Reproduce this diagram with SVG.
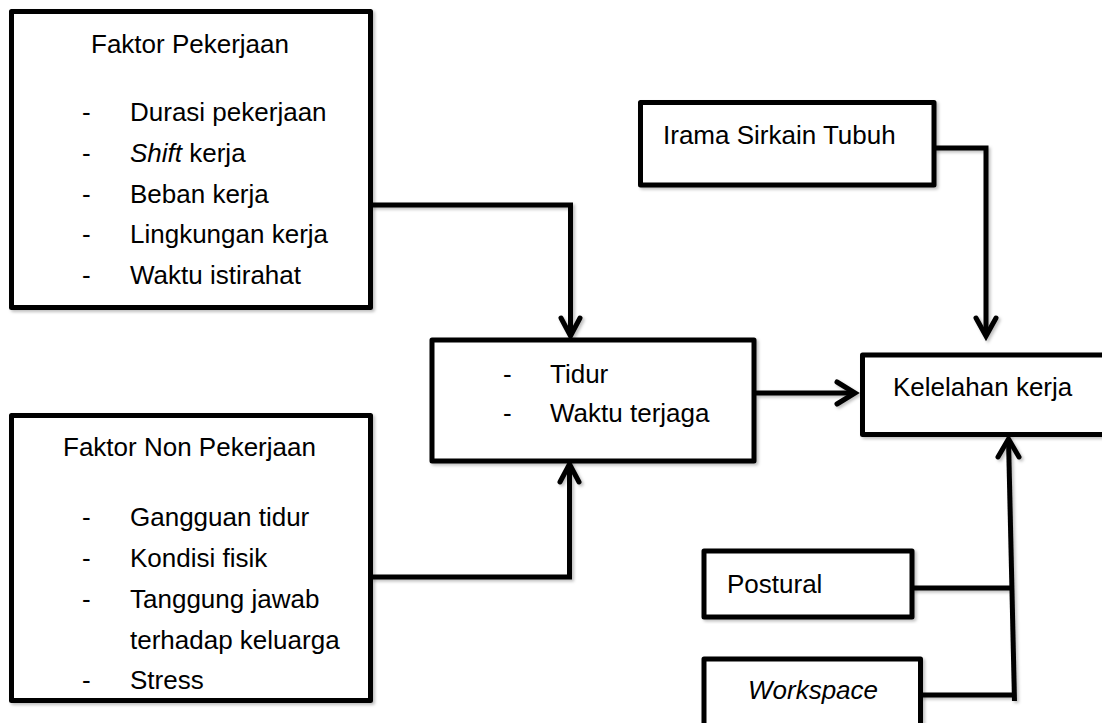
<svg xmlns="http://www.w3.org/2000/svg" width="1102" height="723" viewBox="0 0 1102 723">
<style>
.box{fill:#fff;stroke:#000;stroke-width:5;stroke-linejoin:round}
.ln{fill:none;stroke:#000;stroke-width:5;stroke-linejoin:miter}
.ah{fill:none;stroke:#000;stroke-width:5;stroke-linecap:round;stroke-linejoin:miter}
text{font-family:"Liberation Sans",Arial,sans-serif;font-size:26px;fill:#000}
.it{font-style:italic}
</style>
<defs>
<filter id="sh" x="-5%" y="-5%" width="115%" height="115%">
<feDropShadow dx="2" dy="2" stdDeviation="1.5" flood-color="#000" flood-opacity="0.25"/>
</filter>
</defs>
<rect width="1102" height="723" fill="#fff"/>
<g id="connectors" filter="url(#sh)">
<polyline class="ln" points="371,205 570.5,205 570.5,336"/>
<polyline class="ah" points="561,318 570.5,336 580,318"/>
<polyline class="ln" points="371,577 569.5,577 569.5,464"/>
<polyline class="ah" points="560,482 569.5,464 579,482"/>
<line class="ln" x1="756" y1="393" x2="855" y2="393"/>
<polyline class="ah" points="837,382 855,393 837,404"/>
<polyline class="ln" points="934,148 986,148 986,336"/>
<polyline class="ah" points="976,318 986,336 996,318"/>
<line class="ln" x1="1014.5" y1="701" x2="1008.5" y2="439"/>
<polyline class="ah" points="998,457 1008.5,439 1019,457"/>
<line class="ln" x1="912" y1="588" x2="1011" y2="588"/>
<line class="ln" x1="920" y1="695" x2="1014" y2="695"/>
</g>
<g id="faktor-pekerjaan">
<rect class="box" x="11.5" y="11.5" width="359" height="296" filter="url(#sh)"/>
<text x="91" y="53">Faktor Pekerjaan</text>
<text x="82" y="121">-</text><text x="130" y="121">Durasi pekerjaan</text>
<text x="82" y="162">-</text><text x="130" y="162"><tspan class="it">Shift</tspan> kerja</text>
<text x="82" y="203">-</text><text x="130" y="203">Beban kerja</text>
<text x="82" y="243">-</text><text x="130" y="243">Lingkungan kerja</text>
<text x="82" y="284">-</text><text x="130" y="284">Waktu istirahat</text>
</g>
<g id="faktor-non-pekerjaan">
<rect class="box" x="11.5" y="415.5" width="359" height="285" filter="url(#sh)"/>
<text x="63" y="456">Faktor Non Pekerjaan</text>
<text x="82" y="526">-</text><text x="130" y="526">Gangguan tidur</text>
<text x="82" y="567">-</text><text x="130" y="567">Kondisi fisik</text>
<text x="82" y="608">-</text><text x="130" y="608">Tanggung jawab</text>
<text x="130" y="649">terhadap keluarga</text>
<text x="82" y="689">-</text><text x="130" y="689">Stress</text>
</g>
<g id="tidur">
<rect class="box" x="432" y="340" width="322" height="121" filter="url(#sh)"/>
<text x="503" y="383">-</text><text x="550" y="383">Tidur</text>
<text x="503" y="422">-</text><text x="550" y="422">Waktu terjaga</text>
</g>
<g id="irama">
<rect class="box" x="640.5" y="102.5" width="293.5" height="82.5" filter="url(#sh)"/>
<text x="663" y="144">Irama Sirkain Tubuh</text>
</g>
<g id="kelelahan">
<rect class="box" x="862.5" y="355" width="260" height="79.5" filter="url(#sh)"/>
<text x="893" y="396">Kelelahan kerja</text>
</g>
<g id="postural">
<rect class="box" x="704" y="551" width="208" height="66" filter="url(#sh)"/>
<text x="727" y="593">Postural</text>
</g>
<g id="workspace">
<rect class="box" x="704" y="659" width="216.5" height="90" filter="url(#sh)"/>
<text class="it" x="748" y="699">Workspace</text>
</g>
</svg>
